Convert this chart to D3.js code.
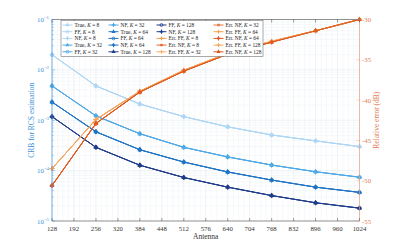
<html>
<head>
    <title>crb vs antenna</title>
</head>
<body style="margin: 0; background: #fff;">
    <svg style="position: absolute; left: 0; top: 0;"></svg>
</body>

<script src="https://cdn.jsdelivr.net/npm/d3@7"></script>
<script>
const width = 397;
const height = 249;

// data
const antennas = [128, 256, 384, 512, 640, 768, 896, 1024];
const xTicks = [128, 192, 256, 320, 384, 448, 512, 576, 640, 704, 768, 832, 896, 960, 1024];
const rTicks = [-30, -35, -40, -45, -50, -55];
const Ks = [8, 32, 64, 128];
const crbK8   = [0.0200, 0.0048, 0.0021, 0.00118, 0.00074, 0.00051, 0.00039, 0.00030];
const crbK32  = [0.0048, 0.00122, 0.00054, 0.00029, 0.000187, 0.000129, 0.000095, 0.000074];
const crbK64  = [0.0023, 0.00059, 0.00026, 0.000148, 0.000094, 0.000065, 0.000047, 0.000037];
const crbK128 = [0.00118, 0.00029, 0.000128, 0.000073, 0.000047, 0.000032, 0.000023, 0.000018];
const errFF = [-48.5, -42.4, -38.9, -36.3, -34.2, -32.7, -31.4, -30.0];
const errNF = [-50.6, -42.9, -39.0, -36.4, -34.3, -32.8, -31.4, -30.0];

const blues = ["#aed6f5", "#4fa9e6", "#1f74c6", "#203c8c"];
const oranges = { FF: ["#f59a45", "#f8b072", "#f6a34e", "#f5a45e"], NF: ["#e2662e", "#e8763e", "#d9561f", "#e05a1e"] };
const crbByK = [crbK8, crbK32, crbK64, crbK128];

// series: names in legend order
const series = [];
Ks.forEach((k, i) => {
    ["True", "FF", "NF"].forEach(m => series.push({ label: m, k, axis: "L", vals: crbByK[i], color: blues[i], marker: m }));
});
const errMarkers = { NF: ["circle", "square", "diamond", "triangle"] };
const errSeries = [];
Ks.forEach((k, i) => {
    errSeries.push({ label: "Err. FF", k, axis: "R", vals: errFF, color: oranges.FF[i], marker: "plus" });
    errSeries.push({ label: "Err. NF", k, axis: "R", vals: errNF, color: oranges.NF[i], marker: errMarkers.NF[i] });
});
const legendOrder = series.concat(errSeries.filter((s, i) => true));
// legend order: blue then Err. FF 8, Err. NF 8, Err. FF 32, ...

const m = { l: 52, r: 37.5, t: 19.5, b: 28 };
const x = d3.scaleLinear().domain([128, 1024]).range([m.l, width - m.r]);
const y = d3.scaleLog().domain([1e-5, 1e-1]).range([height - m.b, m.t]);
const yR = d3.scaleLinear().domain([-55, -30]).range([height - m.b, m.t]);

const svg = d3.select("svg").attr("width", width).attr("height", height)
    .style("font-family", "'Liberation Serif', 'DejaVu Serif', serif");

// grid
const grid = svg.append("g");
const minorX = d3.range(128, 1024, 16).filter(v => (v - 128) % 64 != 0);
grid.selectAll(".mx").data(minorX).join("line")
    .attr("x1", d => x(d)).attr("x2", d => x(d))
    .attr("y1", m.t).attr("y2", height - m.b)
    .attr("stroke", "#edf2f7").attr("stroke-width", 0.5);
const minorY = [];
for (let e = -5; e < -1; e++) for (let k = 2; k < 10; k++) minorY.push(k * Math.pow(10, e));
grid.selectAll(".my").data(minorY).join("line")
    .attr("y1", d => y(d)).attr("y2", d => y(d))
    .attr("x1", m.l).attr("x2", width - m.r)
    .attr("stroke", "#edf2f7").attr("stroke-width", 0.5);
grid.selectAll(".gx").data(xTicks).join("line")
    .attr("x1", d => x(d)).attr("x2", d => x(d))
    .attr("y1", m.t).attr("y2", height - m.b)
    .attr("stroke", "#dfe7ef").attr("stroke-width", 0.5);
grid.selectAll(".gy").data([1e-4, 1e-3, 1e-2]).join("line")
    .attr("y1", d => y(d)).attr("y2", d => y(d))
    .attr("x1", m.l).attr("x2", width - m.r)
    .attr("stroke", "#dfe7ef").attr("stroke-width", 0.5);

// markers
function drawMarker(g, type, color, cx, cy, s) {
    if (type == "True" || type == "triangle") {
        g.append("path").attr("d", d3.symbol(d3.symbolTriangle, s * s * 0.6)())
            .attr("transform", `translate(${cx},${cy})`).attr("fill", color);
    } else if (type == "FF") {
        g.append("circle").attr("cx", cx).attr("cy", cy).attr("r", s * 0.4)
            .attr("fill", "none").attr("stroke", color).attr("stroke-width", 0.8);
    } else if (type == "NF" || type == "diamond") {
        g.append("path").attr("d", d3.symbol(d3.symbolDiamond, s * s * 0.5)())
            .attr("transform", `translate(${cx},${cy})`).attr("fill", color);
        g.append("path").attr("d", `M${cx - s * 0.55},${cy}H${cx + s * 0.55}M${cx},${cy - s * 0.55}V${cy + s * 0.55}`)
            .attr("stroke", color).attr("stroke-width", 0.8);
    } else if (type == "plus") {
        g.append("path").attr("d", `M${cx - s * 0.55},${cy}H${cx + s * 0.55}M${cx},${cy - s * 0.55}V${cy + s * 0.55}`)
            .attr("stroke", color).attr("stroke-width", 1);
    } else if (type == "circle") {
        g.append("circle").attr("cx", cx).attr("cy", cy).attr("r", s * 0.4).attr("fill", color);
    } else if (type == "square") {
        g.append("rect").attr("x", cx - s * 0.35).attr("y", cy - s * 0.35)
            .attr("width", s * 0.7).attr("height", s * 0.7).attr("fill", color);
    }
}

const plot = svg.append("g");
const line = d3.line();
series.concat(errSeries).forEach(s => {
    const sy = s.axis == "L" ? y : yR;
    const pts = antennas.map((a, i) => [x(a), sy(s.vals[i])]);
    plot.append("path").attr("d", line(pts)).attr("fill", "none")
        .attr("stroke", s.color).attr("stroke-width", 1);
    pts.forEach(p => drawMarker(plot, s.marker, s.color, p[0], p[1], 4.2));
});

// box + axes
const blueAx = "#3d8fd6", orangeAx = "#e9a283", orangeTxt = "#e37a4f";
svg.append("line").attr("x1", m.l).attr("x2", width - m.r).attr("y1", m.t).attr("y2", m.t).attr("stroke", "#444").attr("stroke-width", 0.6);
svg.append("line").attr("x1", m.l).attr("x2", width - m.r).attr("y1", height - m.b).attr("y2", height - m.b).attr("stroke", "#444").attr("stroke-width", 0.6);
svg.append("line").attr("x1", m.l).attr("x2", m.l).attr("y1", m.t).attr("y2", height - m.b).attr("stroke", blueAx).attr("stroke-width", 0.7);
svg.append("line").attr("x1", width - m.r).attr("x2", width - m.r).attr("y1", m.t).attr("y2", height - m.b).attr("stroke", orangeAx).attr("stroke-width", 0.7);

// x ticks
xTicks.forEach(t => {
    svg.append("line").attr("x1", x(t)).attr("x2", x(t)).attr("y1", height - m.b).attr("y2", height - m.b - 3).attr("stroke", "#444").attr("stroke-width", 0.5);
    svg.append("line").attr("x1", x(t)).attr("x2", x(t)).attr("y1", m.t).attr("y2", m.t + 3).attr("stroke", "#444").attr("stroke-width", 0.5);
    svg.append("text").attr("x", x(t)).attr("y", height - m.b + 9.5).attr("text-anchor", "middle")
        .attr("font-size", 6.8).attr("fill", "#333").text(t);
});
svg.append("text").attr("x", (m.l + width - m.r) / 2).attr("y", 239).attr("text-anchor", "middle")
    .attr("font-size", 7.5).attr("fill", "#333").text("Antenna");

// left log ticks
[-5, -4, -3, -2, -1].forEach(e => {
    const yy = y(Math.pow(10, e));
    svg.append("line").attr("x1", m.l).attr("x2", m.l + 3).attr("y1", yy).attr("y2", yy).attr("stroke", blueAx).attr("stroke-width", 0.5);
    const t = svg.append("text").attr("x", m.l - 3).attr("y", yy + 2.5).attr("text-anchor", "end")
        .attr("font-size", 6.8).attr("fill", blueAx);
    t.append("tspan").text("10");
    t.append("tspan").attr("dy", -3).attr("font-size", 4.8).text("\u2212" + (-e));
});
minorY.forEach(v => {
    svg.append("line").attr("x1", m.l).attr("x2", m.l + 1.6).attr("y1", y(v)).attr("y2", y(v)).attr("stroke", blueAx).attr("stroke-width", 0.4);
});
svg.append("text").attr("transform", `translate(34,${(m.t + height - m.b) / 2}) rotate(-90)`)
    .attr("text-anchor", "middle").attr("font-size", 7.5).attr("fill", blueAx).text("CRB for RCS estimation");

// right ticks
rTicks.forEach(t => {
    const yy = yR(t);
    svg.append("line").attr("x1", width - m.r - 3).attr("x2", width - m.r).attr("y1", yy).attr("y2", yy).attr("stroke", orangeAx).attr("stroke-width", 0.5);
    svg.append("text").attr("x", width - m.r + 2.5).attr("y", yy + 2.5).attr("font-size", 6.8).attr("fill", orangeTxt).text("-" + (-t));
});
svg.append("text").attr("transform", `translate(379,${(m.t + height - m.b) / 2}) rotate(-90)`)
    .attr("text-anchor", "middle").attr("font-size", 7.5).attr("fill", orangeTxt).text("Relative error (dB)");

// legend
const lg = svg.append("g");
lg.append("rect").attr("x", 61).attr("y", 20.5).attr("width", 202).attr("height", 36)
    .attr("fill", "#fff").attr("stroke", "#555").attr("stroke-width", 0.5);
const colX = [62.5, 108.5, 156.5, 213.5];
legendOrder.forEach((s, i) => {
    const c = Math.floor(i / 5), r = i % 5;
    const lx = colX[c], ly = 25 + r * 6.7;
    lg.append("line").attr("x1", lx).attr("x2", lx + 10).attr("y1", ly).attr("y2", ly).attr("stroke", s.color).attr("stroke-width", 1);
    drawMarker(lg, s.marker, s.color, lx + 5, ly, 3.6);
    const t = lg.append("text").attr("x", lx + 12).attr("y", ly + 1.8).attr("font-size", 5.4).attr("fill", "#222");
    t.append("tspan").text(s.label + ", ");
    t.append("tspan").attr("font-style", "italic").text("K");
    t.append("tspan").text(" = " + s.k);
});
</script>
</html>
